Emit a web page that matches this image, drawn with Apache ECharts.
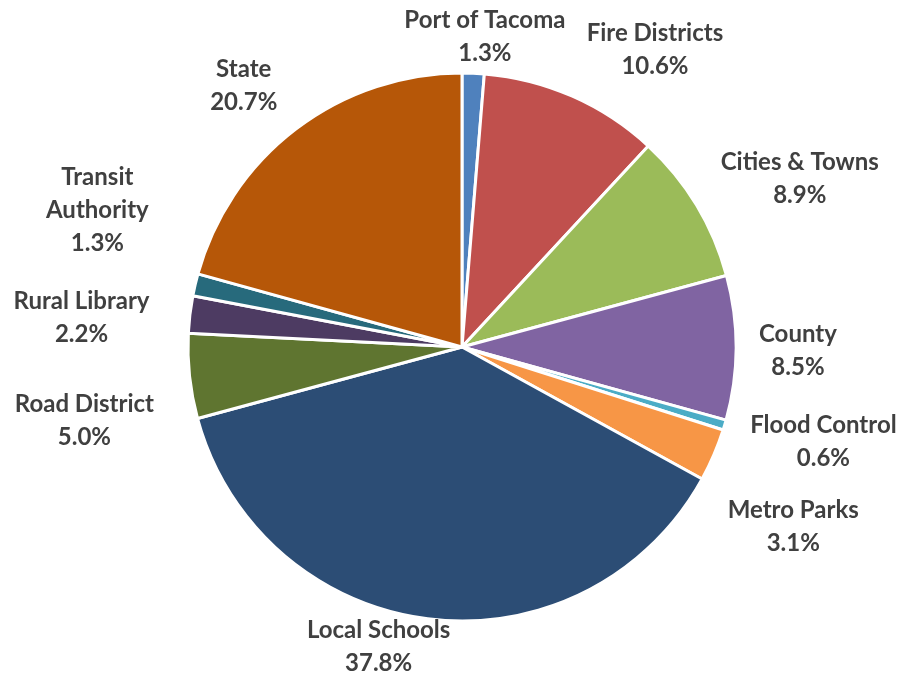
<!DOCTYPE html>
<html>
<head>
<meta charset="utf-8">
<script src="https://cdn.jsdelivr.net/npm/echarts@6/dist/echarts.min.js"></script>
<style>
html,body{margin:0;padding:0;background:#fff;}
#chart{width:902px;height:675px;}
</style>
</head>
<body>
<div id="chart"></div>
<script>
var categories = ['Port of Tacoma','Fire Districts','Cities & Towns','County','Flood Control','Metro Parks','Local Schools','Road District','Rural Library','Transit\nAuthority','State'];
var shares = [1.3, 10.6, 8.9, 8.5, 0.6, 3.1, 37.8, 5.0, 2.2, 1.3, 20.7];
var colors = ['#4F81BD','#C0504D','#9BBB59','#8064A2','#4BACC6','#F79646','#2C4D75','#5F7530','#4D3B62','#276A7C','#B65708'];

var CX = 462, CY = 347, R = 274, GAP = 10;
// label offsets (px) from the radial anchor, mimicking the reference's label placement
var nudge = [[8,7],[51,-7],[27,-4],[13,3],[19,4],[10,55],[-41,-15],[-26,40],[-31,9],[-38,-61],[-26,-9]];

var total = shares.reduce(function(a,b){return a+b;},0);
var mids = [];
(function(){
  var cum = 0;
  for (var i=0;i<shares.length;i++){ mids.push(2*Math.PI*(cum+shares[i]/2)/total); cum += shares[i]; }
})();

var chart = echarts.init(document.getElementById('chart'), null, {renderer:'canvas'});
chart.setOption({
  animation:false,
  backgroundColor:'#fff',
  series:[{
    type:'pie',
    center:[CX, CY],
    radius:R,
    startAngle:90,
    clockwise:true,
    avoidLabelOverlap:false,
    data: categories.map(function(c,i){ return {name:c, value:shares[i], itemStyle:{color:colors[i]}}; }),
    itemStyle:{borderColor:'#fff', borderWidth:3},
    emphasis:{disabled:true},
    label:{
      show:true,
      position:'outside',
      formatter:function(p){ return p.name + '\n' + p.value.toFixed(1) + '%'; },
      fontFamily:'Lato',
      fontWeight:'bold',
      fontSize:24,
      lineHeight:33,
      color:'#404040',
      align:'center'
    },
    labelLine:{show:false},
    labelLayout:function(params){
      var i = params.dataIndex;
      var t = mids[i];
      var dx = Math.sin(t), dy = -Math.cos(t);
      var w = params.labelRect.width, h = params.labelRect.height;
      var x = CX + (R+GAP)*dx + dx*w/2 + nudge[i][0];
      var y = CY + (R+GAP)*dy + dy*h/2 + nudge[i][1];
      return {x:x, y:y, align:'center', verticalAlign:'middle'};
    }
  }]
});
</script>
</body>
</html>
